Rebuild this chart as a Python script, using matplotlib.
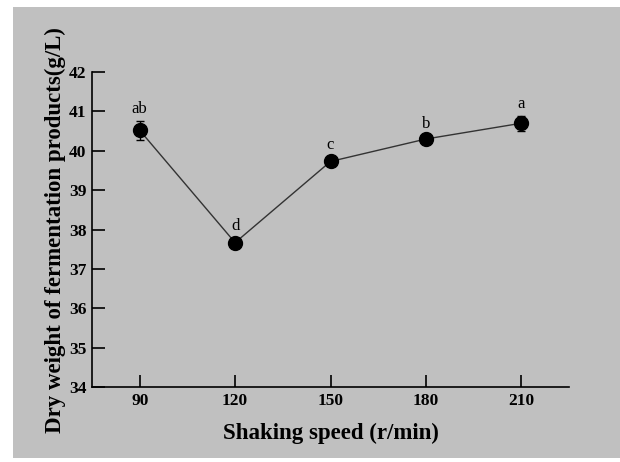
import matplotlib

matplotlib.use('Agg')
import matplotlib.pyplot as plt
from matplotlib.patches import Rectangle

# shaking speed vs dry weight of fermentation products
speeds = [90, 120, 150, 180, 210]
dry_weight = [40.52, 37.67, 39.73, 40.30, 40.70]
errors = [0.24, 0.12, 0.11, 0.06, 0.19]
letters = ['ab', 'd', 'c', 'b', 'a']

plt.rcParams['font.family'] = ['Liberation Serif', 'DejaVu Serif']

fig = plt.figure(figsize=(6.2, 4.62), dpi=100)
fig.patches.append(Rectangle((13 / 620, 0.008), 1 - 13 / 620, 1 - 7 / 462 - 0.008,
                             transform=fig.transFigure, facecolor='#c0c0c0',
                             edgecolor='none', zorder=-5))

ax = fig.add_axes([92 / 620, 1 - 387.3 / 462, (569 - 92) / 620, (387.3 - 72) / 462])
ax.set_facecolor('none')

ax.errorbar(speeds, dry_weight, yerr=errors, color='#333333', lw=1,
            marker='o', markersize=10, markerfacecolor='black', markeredgecolor='black',
            ecolor='black', elinewidth=1, capsize=3, capthick=1)

for x, y, e, t in zip(speeds, dry_weight, errors, letters):
    ax.annotate(t, (x, y + e), xytext=(0, 3), textcoords='offset points',
                ha='center', va='bottom', fontsize=12)

ax.set_xlim(75, 225)
ax.set_ylim(34, 42)
ax.set_xticks(speeds)
ax.set_yticks(range(34, 43))
ax.spines['top'].set_visible(False)
ax.spines['right'].set_visible(False)
for s in ('left', 'bottom'):
    ax.spines[s].set_linewidth(1.2)
ax.tick_params(direction='in', length=9, width=1.2, labelsize=12.5, pad=4)
for lbl in ax.get_xticklabels() + ax.get_yticklabels():
    lbl.set_fontweight('bold')

ax.set_xlabel('Shaking speed (r/min)', fontsize=16.5, fontweight='bold', labelpad=10)
ax.set_ylabel('Dry weight of fermentation products(g/L)', fontsize=16.5,
              fontweight='bold', labelpad=2)

fig.savefig('out.png', dpi=100, facecolor='white')
